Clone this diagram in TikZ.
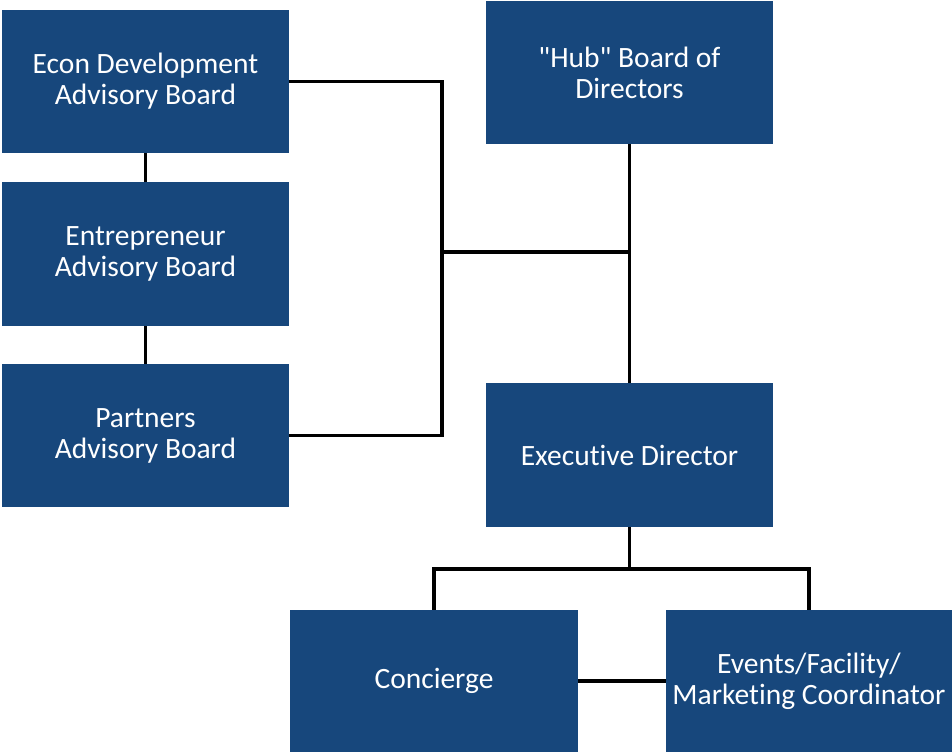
\documentclass[tikz,border=0pt]{standalone}
\usepackage{fontspec}
\newfontfamily\calfont[Ligatures={NoCommon}]{Carlito}
\definecolor{boxblue}{RGB}{23,71,124}
\begin{document}
\begin{tikzpicture}[x=1pt,y=-1pt,
  orgbox/.style={fill=boxblue,draw=none,text=white,align=center,inner sep=0pt,
    font=\calfont\fontsize{29.5}{31}\selectfont},
  link/.style={draw=black,line width=3.3pt}]
\useasboundingbox (0,0) rectangle (952,752);
\node[orgbox,minimum width=287pt,minimum height=143pt] (econ) at (145.5,81.5) {Econ Development\\Advisory Board};
\node[orgbox,minimum width=287pt,minimum height=144pt] (entre) at (145.5,254) {Entrepreneur\\Advisory Board};
\node[orgbox,minimum width=287pt,minimum height=143pt] (partners) at (145.5,435.5) {Partners\\Advisory Board};
\node[orgbox,minimum width=287pt,minimum height=143pt] (hub) at (629.5,72.5) {"Hub" Board of\\Directors};
\node[orgbox,minimum width=287pt,minimum height=144pt] (exec) at (629.5,455) {Executive Director};
\node[orgbox,minimum width=288pt,minimum height=142pt] (conc) at (434,681) {Concierge};
\node[orgbox,minimum width=286pt,minimum height=142pt] (events) at (809,681) {Events/Facility/\\Marketing Coordinator};
\coordinate (j) at (442,252);
\coordinate (b) at (629.5,569);
\draw[link] (econ.south) -- (entre.north);
\draw[link] (entre.south) -- (partners.north);
\draw[link] (econ.east) -- (econ.east -| j) -- (partners.east -| j) -- (partners.east);
\draw[link] (j) -- (j -| hub.south);
\draw[link] (hub.south) -- (exec.north);
\draw[link] (exec.south) -- (b);
\draw[link] (conc.north) |- (b) -| (events.north);
\draw[link] (conc.east) -- (events.west);
\end{tikzpicture}
\end{document}
